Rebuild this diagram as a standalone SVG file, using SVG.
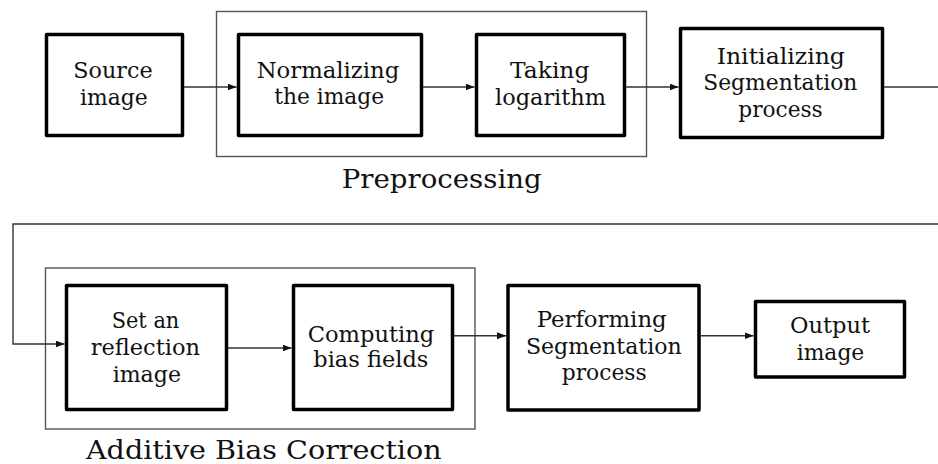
<svg xmlns="http://www.w3.org/2000/svg" width="938" height="464" viewBox="0 0 938 464">
<style>
.node{fill:#fff;stroke:#000;stroke-width:3.5;stroke-linejoin:round}
.grp{fill:none;stroke:#555;stroke-width:1.4}
.conn{fill:none;stroke:#333;stroke-width:1.4}
text{font-family:'DejaVu Serif','Liberation Serif',serif;font-size:23px;fill:#111;text-anchor:middle}
.lbl{font-size:26px}
</style>
<defs>
<marker id="ah" markerUnits="userSpaceOnUse" markerWidth="10" markerHeight="8" refX="9" refY="3.5" orient="auto">
<path d="M0,0 L9,3.5 L0,7 z" fill="#111"/>
</marker>
</defs>
<g id="preprocessing">
<rect class="grp" x="216.5" y="11.5" width="430" height="145"/>
<text class="lbl" x="441.7" y="188" textLength="200" lengthAdjust="spacingAndGlyphs">Preprocessing</text>
</g>
<g id="additive-bias-correction">
<rect class="grp" x="45.5" y="268" width="429.5" height="161"/>
<text class="lbl" x="263.8" y="459" textLength="355.7" lengthAdjust="spacingAndGlyphs">Additive Bias Correction</text>
</g>
<g id="source">
<rect class="node" x="46.5" y="34.5" width="136" height="101"/>
<text x="113" y="78" textLength="79.4" lengthAdjust="spacingAndGlyphs">Source</text>
<text x="113.9" y="105" textLength="67.7" lengthAdjust="spacingAndGlyphs">image</text>
</g>
<g id="normalizing">
<rect class="node" x="238.5" y="34.5" width="183" height="101"/>
<text x="328" y="78" textLength="142.6" lengthAdjust="spacingAndGlyphs">Normalizing</text>
<text x="329.2" y="104" textLength="109.7" lengthAdjust="spacingAndGlyphs">the image</text>
</g>
<g id="taking-log">
<rect class="node" x="476.5" y="34.5" width="148" height="101"/>
<text x="549.7" y="78" textLength="79.3" lengthAdjust="spacingAndGlyphs">Taking</text>
<text x="550.5" y="105" textLength="111" lengthAdjust="spacingAndGlyphs">logarithm</text>
</g>
<g id="initializing">
<rect class="node" x="680.5" y="28.5" width="202" height="109"/>
<text x="780.8" y="64" textLength="128.3" lengthAdjust="spacingAndGlyphs">Initializing</text>
<text x="780.3" y="90" textLength="154" lengthAdjust="spacingAndGlyphs">Segmentation</text>
<text x="780.5" y="117" textLength="84.4" lengthAdjust="spacingAndGlyphs">process</text>
</g>
<g id="set-reflection">
<rect class="node" x="66.5" y="285.5" width="160" height="124"/>
<text x="145.5" y="328" textLength="67.6" lengthAdjust="spacingAndGlyphs">Set an</text>
<text x="145.3" y="355" textLength="109.3" lengthAdjust="spacingAndGlyphs">reflection</text>
<text x="146.8" y="381.5" textLength="68.3" lengthAdjust="spacingAndGlyphs">image</text>
</g>
<g id="computing">
<rect class="node" x="293.5" y="285.5" width="159" height="124"/>
<text x="371" y="341.5" textLength="126.6" lengthAdjust="spacingAndGlyphs">Computing</text>
<text x="370.8" y="367" textLength="115" lengthAdjust="spacingAndGlyphs">bias fields</text>
</g>
<g id="performing">
<rect class="node" x="508" y="285.5" width="191" height="124.5"/>
<text x="601.7" y="326.5" textLength="130" lengthAdjust="spacingAndGlyphs">Performing</text>
<text x="603.8" y="354" textLength="155.7" lengthAdjust="spacingAndGlyphs">Segmentation</text>
<text x="604.2" y="380" textLength="85" lengthAdjust="spacingAndGlyphs">process</text>
</g>
<g id="output">
<rect class="node" x="755.5" y="301.5" width="149" height="75.5"/>
<text x="830" y="333" textLength="80" lengthAdjust="spacingAndGlyphs">Output</text>
<text x="830.5" y="360" textLength="67.6" lengthAdjust="spacingAndGlyphs">image</text>
</g>
<g id="connectors">
<path class="conn" d="M184,87 H236.5" marker-end="url(#ah)"/>
<path class="conn" d="M423,87 H474.5" marker-end="url(#ah)"/>
<path class="conn" d="M626,87 H678.5" marker-end="url(#ah)"/>
<path class="conn" d="M884,87 H938"/>
<path class="conn" d="M938,224 H13 V344 H64.5" marker-end="url(#ah)"/>
<path class="conn" d="M228,348 H291.5" marker-end="url(#ah)"/>
<path class="conn" d="M454,335.7 H506" marker-end="url(#ah)"/>
<path class="conn" d="M700.5,335.7 H753.5" marker-end="url(#ah)"/>
</g>
</svg>
